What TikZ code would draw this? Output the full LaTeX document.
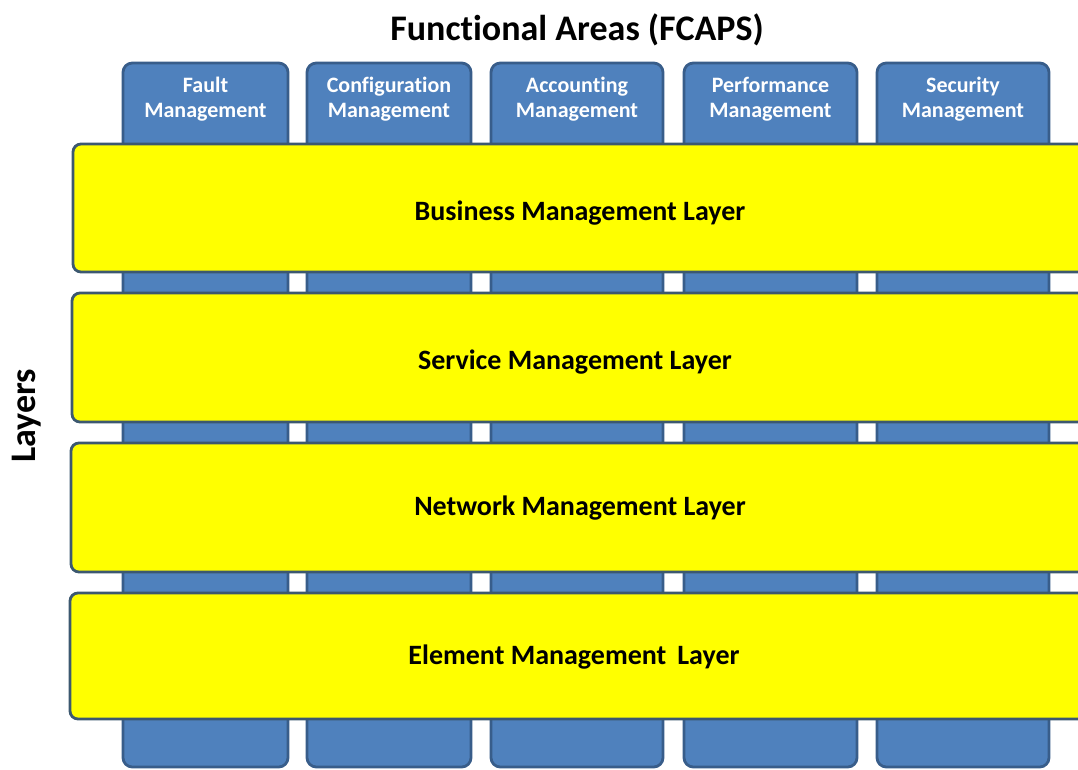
\documentclass[tikz,border=0pt]{standalone}
\usepackage{fontspec}
\setmainfont{Carlito}[Ligatures=NoCommon]
\begin{document}
\begin{tikzpicture}[x=0.75pt,y=-0.75pt,
  colbox/.style={draw=colborder,fill=colblue,line width=2.1pt,rounded corners=7pt},
  layerbox/.style={draw=layborder,fill=layyellow,line width=2.1pt,rounded corners=6pt},
  coltext/.style={text=white,font=\bfseries\fontsize{16.5}{19}\selectfont,align=center},
  laytext/.style={text=black,font=\bfseries\fontsize{21}{25}\selectfont},
  titletext/.style={text=black,font=\bfseries\fontsize{27}{31}\selectfont}]
\definecolor{colblue}{HTML}{4F81BD}
\definecolor{colborder}{HTML}{385D8A}
\definecolor{layyellow}{HTML}{FFFF00}
\definecolor{layborder}{HTML}{3C5870}
\useasboundingbox (0,0) rectangle (1078,769);
\clip (0,0) rectangle (1078,769);
\fill[white] (0,0) rectangle (1078,769);
% columns
\draw[colbox] (123,63) rectangle (288,767);
\draw[colbox] (307,63) rectangle (471,767);
\draw[colbox] (491,63) rectangle (663,767);
\draw[colbox] (684,63) rectangle (857,767);
\draw[colbox] (877,63) rectangle (1049,767);
\node[coltext] (cf) at (205.5,99) {Fault\\Management};
\node[coltext] (cc) at (389,99) {Configuration\\Management};
\node[coltext] (ca) at (577,99) {Accounting\\Management};
\node[coltext] (cp) at (770.5,99) {Performance\\Management};
\node[coltext] (cs) at (963,99) {Security\\Management};
% layers
\draw[layerbox] (73,144) rectangle (1110,272);
\draw[layerbox] (72,293) rectangle (1110,422);
\draw[layerbox] (71,443) rectangle (1110,572);
\draw[layerbox] (70,593) rectangle (1110,719);
\node[laytext] (lb) at (580,213) {Business Management Layer};
\node[laytext] (ls) at (575,362) {Service Management Layer};
\node[laytext] (ln) at (580,508) {Network Management Layer};
\node[laytext] (le) at (574,657) {Element Management\ \,Layer};
% titles
\node[titletext] (title) at (577,30) {Functional Areas (FCAPS)};
\node[titletext,rotate=90] (layers) at (27,416) {Layers};
\end{tikzpicture}
\end{document}
